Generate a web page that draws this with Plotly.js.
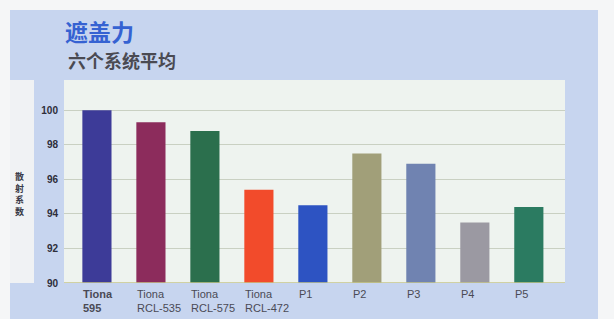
<!DOCTYPE html>
<html>
<head>
<meta charset="utf-8">
<script src="https://cdn.plot.ly/plotly-3.0.1.min.js"></script>
<style>html,body{margin:0;padding:0;background:#f5f6f7;}#chart{width:614px;height:319px;}</style>
</head>
<body>
<div id="chart"></div>
<script>
const categories = ['Tiona 595', 'Tiona RCL-535', 'Tiona RCL-575', 'Tiona RCL-472', 'P1', 'P2', 'P3', 'P4', 'P5'];
const tickLabels = ['<b>Tiona<br>595</b>', 'Tiona<br>RCL-535', 'Tiona<br>RCL-575', 'Tiona<br>RCL-472', 'P1', 'P2', 'P3', 'P4', 'P5'];
const values = [100.0, 99.3, 98.8, 95.4, 94.5, 97.5, 96.9, 93.5, 94.4];
const barColors = ['#3d3b98', '#8c2c5c', '#2b6f4d', '#f24b2b', '#2d53c2', '#a19f79', '#7083b1', '#9b99a2', '#2b7b61'];
const yTicks = [90, 92, 94, 96, 98, 100];
const titleText = '遮盖力';
const subtitleText = '六个系统平均';
const yTitle = '散射系数';

const blue = '#c7d5ef';
const trace = {
  type: 'bar',
  x: categories,
  y: values,
  marker: {color: barColors, line: {width: 0}},
  hoverinfo: 'none',
  base: 0
};

const annotations = categories.map((c, i) => ({
  x: c, y: 0, xref: 'x', yref: 'paper',
  text: tickLabels[i], showarrow: false,
  xanchor: 'left', yanchor: 'top', align: 'left',
  xshift: -16, yshift: -3,
  font: {family: 'Liberation Sans Narrow, Arial Narrow, sans-serif', size: 11, color: '#4a4a55'}
}));
annotations.push({
  xref: 'paper', yref: 'paper', x: -0.002, y: 1.0, xanchor: 'left', yanchor: 'bottom',
  text: '<b>' + titleText + '</b>', showarrow: false, yshift: 30,
  font: {family: 'Noto Sans CJK SC, sans-serif', size: 23, color: '#3562d2'}
});
annotations.push({
  xref: 'paper', yref: 'paper', x: 0.004, y: 1.0, xanchor: 'left', yanchor: 'bottom',
  text: '<b>' + subtitleText + '</b>', showarrow: false, yshift: 5,
  font: {family: 'Noto Sans CJK SC, sans-serif', size: 18, color: '#4a4a52'}
});
annotations.push({
  xref: 'paper', yref: 'paper', x: 0, y: 0.5, xanchor: 'center', yanchor: 'middle',
  text: '<b>' + yTitle.split('').join('<br>') + '</b>', showarrow: false, xshift: -45, yshift: -12, textangle: 0,
  font: {family: 'Noto Sans CJK SC, sans-serif', size: 9, color: '#3a3a48'}
});

const shapes = [
  {type:'rect', xref:'paper', yref:'paper', layer:'below', x0:(10-64)/501, x1:(598-64)/501, y0:1, y1:1+(80-10)/203, fillcolor:blue, line:{width:0}},
  {type:'rect', xref:'paper', yref:'paper', layer:'below', x0:(34-64)/501, x1:0, y0:0, y1:1, fillcolor:blue, line:{width:0}},
  {type:'rect', xref:'paper', yref:'paper', layer:'below', x0:1, x1:(598-64)/501, y0:-(319-283)/203, y1:1, fillcolor:blue, line:{width:0}},
  {type:'rect', xref:'paper', yref:'paper', layer:'below', x0:(10-64)/501, x1:(598-64)/501, y0:-(319-283)/203, y1:0, fillcolor:blue, line:{width:0}},
  {type:'rect', xref:'paper', yref:'paper', layer:'below', x0:(10-64)/501, x1:(34-64)/501, y0:0, y1:1, fillcolor:'#f0f2f4', line:{width:0}}
];

const layout = {
  width: 614, height: 319,
  margin: {l: 64, r: 49, t: 80, b: 36},
  paper_bgcolor: '#f5f6f7',
  plot_bgcolor: '#eef3ef',
  showlegend: false,
  bargap: 0.46,
  xaxis: {
    range: [-0.61, 8.67], showticklabels: false, ticks: '',
    showgrid: false, zeroline: false, showline: false, fixedrange: true
  },
  yaxis: {
    range: [90, 101.75], tickvals: yTicks, ticktext: yTicks.map(v => '<b>' + v + '</b>'),
    showgrid: true, gridcolor: '#c9d0c2', gridwidth: 1,
    zeroline: false, showline: false, ticks: '', ticklen: 0, ticklabelstandoff: 5,
    tickfont: {family: 'Liberation Sans Narrow, Arial Narrow, sans-serif', size: 10, color: '#2e2e3a'},
    fixedrange: true
  },
  shapes: shapes.concat([
    {type:'line', xref:'paper', yref:'y', x0:0, x1:1, y0:90, y1:90, line:{color:'#c6c68a', width:1.5}, layer:'above'}
  ]),
  annotations: annotations
};

Plotly.newPlot('chart', [trace], layout, {displayModeBar: false, staticPlot: true});
</script>
</body>
</html>
